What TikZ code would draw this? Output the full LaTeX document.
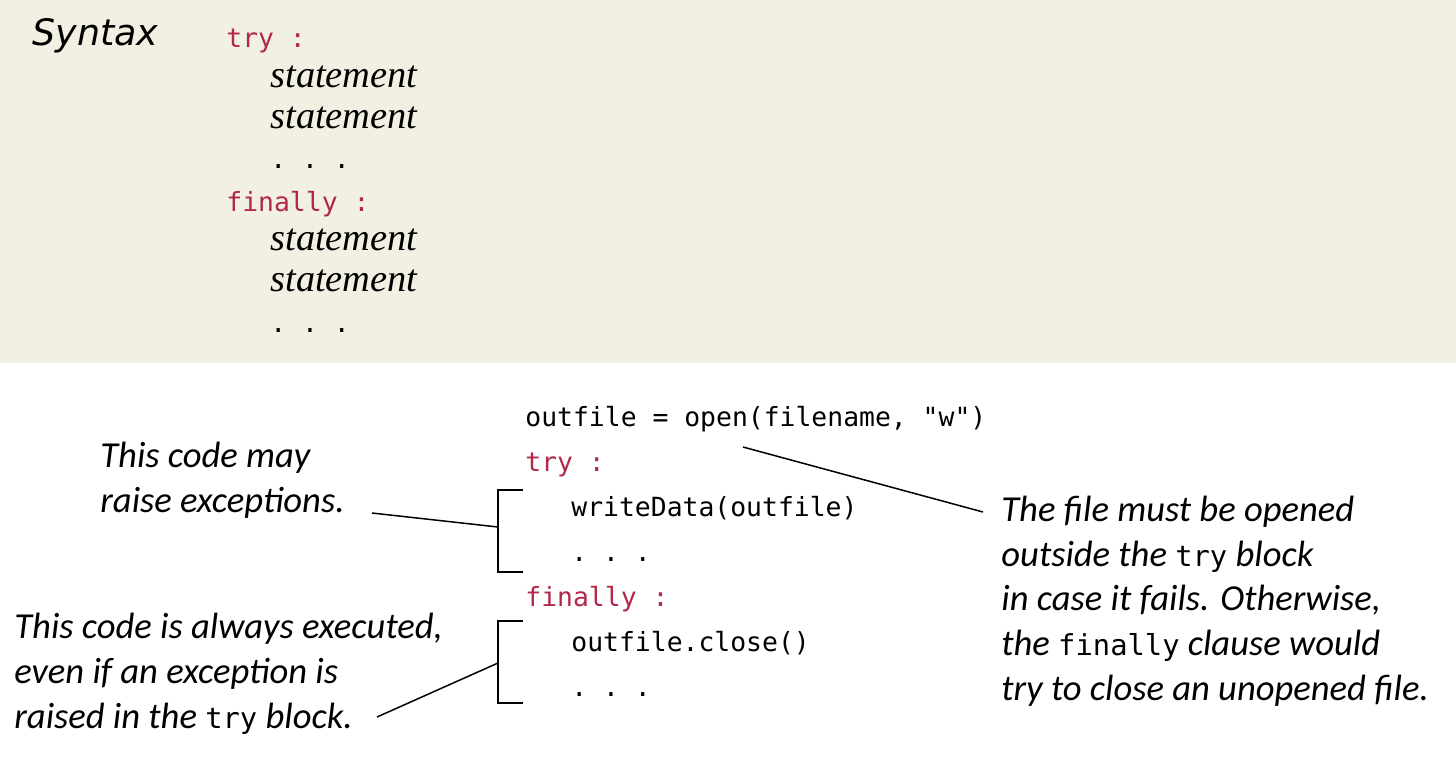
\documentclass[tikz,border=0pt]{standalone}
\usepackage{fontspec}
\setmainfont{Liberation Serif}
\setmonofont{DejaVu Sans Mono}
\newfontfamily\headfont{DejaVu Sans}
\newfontfamily\handfont{Carlito}
\usetikzlibrary{positioning}

\definecolor{keyred}{RGB}{178,40,72}
\definecolor{panelbg}{RGB}{242,240,226}

\newcommand\notecode[1]{{\upshape\ttfamily\fontsize{14.4}{22.3}\selectfont #1}}

\tikzset{
  code/.style={anchor=base west, inner sep=0pt, font=\ttfamily\fontsize{13.2}{22.5}\selectfont},
  keyword/.style={code, text=keyred},
  stmt/.style={anchor=base west, inner sep=0pt, font=\itshape\fontsize{19.2}{20.5}\selectfont},
  note/.style={anchor=base west, inner sep=0pt, align=left, font=\handfont\itshape\fontsize{18.3}{22.3}\selectfont},
  pointer/.style={line width=0.75pt},
  bracket/.style={line width=0.9pt}
}

\begin{document}
\begin{tikzpicture}[x=0.5pt,y=-0.5pt]
\useasboundingbox (0,0) rectangle (1456,762);
\fill[panelbg] (0,0) rectangle (1456,363);

% syntax box
\node[anchor=base west, inner sep=0pt, font=\headfont\itshape\fontsize{18.2}{20}\selectfont] (syntax) at (32,45) {Syntax};
\node[keyword] (sTry) at (226,47) {try :};
\node[stmt] (sStA) at (270,87) {statement};
\node[stmt] (sStB) at (270,128) {statement};
\node[code] (sDotsA) at (270,168) {. . .};
\node[keyword] (sFinally) at (226,211) {finally :};
\node[stmt] (sStC) at (270,250) {statement};
\node[stmt] (sStD) at (270,291) {statement};
\node[code] (sDotsB) at (270,332) {. . .};

% example code
\node[code] (open) at (525,426) {outfile = open(filename, "w")};
\node[keyword] (try) at (525,471) {try :};
\node[code] (write) at (571,516) {writeData(outfile)};
\node[code] (dotsA) at (571,561) {. . .};
\node[keyword] (finally) at (525,606) {finally :};
\node[code] (close) at (571,651) {outfile.close()};
\node[code] (dotsB) at (571,696) {. . .};

% brackets
\coordinate (tryTop) at (523,490);
\coordinate (tryBot) at (523,572);
\coordinate (tryMid) at (498,527);
\draw[bracket] (tryTop) -- (498,490) -- (498,572) -- (tryBot);
\coordinate (finTop) at (523,621);
\coordinate (finBot) at (523,703);
\coordinate (finMid) at (498,663);
\draw[bracket] (finTop) -- (498,621) -- (498,703) -- (finBot);

% notes (base = last line)
\node[note] (mayNote) at (100,512) {This code may\\raise exceptions.};
\node[note] (alwaysNote) at (14,728) {This code is always executed,\\even if an exception is\\raised in the \notecode{try} block.};
\node[note] (openNote) at (1001,700) {The file must be opened\\outside the \notecode{try} block\\in case it fails. Otherwise,\\the \notecode{finally} clause would\\try to close an unopened file.};

\coordinate (mayTip) at (372,513);
\coordinate (alwaysTip) at (377,717);
\coordinate (openTip) at (743,447);
\coordinate (openEnd) at (983,512);
\draw[pointer] (mayTip) -- (tryMid);
\draw[pointer] (alwaysTip) -- (finMid);
\draw[pointer] (openTip) -- (openEnd);
\end{tikzpicture}
\end{document}
